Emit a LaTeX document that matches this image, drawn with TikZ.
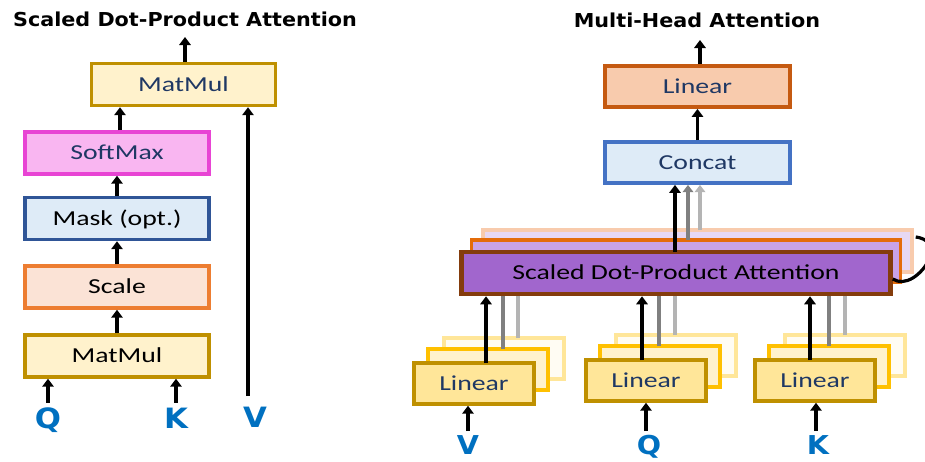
\documentclass[tikz,border=0pt]{standalone}
\usepackage{fontspec}
\usetikzlibrary{arrows.meta,calc}
\newfontfamily\labfont[FakeStretch=1.3]{Carlito}
\newfontfamily\headfont[FakeStretch=1.08]{DejaVu Sans}
\newfontfamily\qkvfont[FakeStretch=1.1]{DejaVu Sans}

\definecolor{navy}{HTML}{1F3864}
\definecolor{qkvblue}{HTML}{0070C0}
\definecolor{mmfill}{HTML}{FFF2CC}
\definecolor{mmdraw}{HTML}{BF9000}
\definecolor{softfill}{HTML}{F9B6F1}
\definecolor{softdraw}{HTML}{E844D4}
\definecolor{maskfill}{HTML}{DEEBF7}
\definecolor{maskdraw}{HTML}{2F5597}
\definecolor{scalefill}{HTML}{FBE3D6}
\definecolor{scaledraw}{HTML}{ED7D31}
\definecolor{outfill}{HTML}{F8CBAD}
\definecolor{outdraw}{HTML}{C55A11}
\definecolor{catfill}{HTML}{DEEBF7}
\definecolor{catdraw}{HTML}{4472C4}
\definecolor{sAfill}{HTML}{A166CD}
\definecolor{sAdraw}{HTML}{843C0C}
\definecolor{sBfill}{HTML}{C9A3E6}
\definecolor{sBdraw}{HTML}{E46C0A}
\definecolor{sCfill}{HTML}{E7D8F3}
\definecolor{sCdraw}{HTML}{F8CBAD}
\definecolor{linAfill}{HTML}{FFE699}
\definecolor{linAdraw}{HTML}{BF9000}
\definecolor{linBfill}{HTML}{FFF2CC}
\definecolor{linBdraw}{HTML}{FFC000}
\definecolor{linCfill}{HTML}{FFFCF3}
\definecolor{linCdraw}{HTML}{FFE699}
\definecolor{dgray}{HTML}{808080}
\definecolor{lgray}{HTML}{B4B4B4}

\begin{document}
\begin{tikzpicture}[x=0.75pt,y=-0.75pt,
  box/.style={draw, line width=2.6pt, inner sep=0pt,
    font=\labfont\fontsize{16}{18}\selectfont, text height=10pt, text depth=0pt},
  lbox/.style={box, minimum width=138pt, minimum height=31.5pt},
  rbox/.style={box, minimum width=138.75pt, minimum height=31pt},
  headbox/.style={box, minimum width=321.75pt, minimum height=31.5pt},
  linbox/.style={box, minimum width=90pt, minimum height=30.75pt},
  heading/.style={inner sep=0pt, font=\headfont\bfseries\fontsize{14.4}{16}\selectfont,
    text height=10.5pt, text depth=0pt},
  qkv/.style={inner sep=0pt, text=qkvblue, font=\qkvfont\bfseries\fontsize{21}{24}\selectfont,
    text height=15.3pt, text depth=0pt},
  qkvr/.style={qkv, font=\qkvfont\bfseries\fontsize{19.5}{22}\selectfont, text height=14.2pt},
  arr/.style={line width=2.6pt, -{Triangle[width=8.5pt,length=6pt]}},
  garr/.style={line width=2.4pt, -{Triangle[width=8pt,length=5.5pt]}},
  gline/.style={line width=2.4pt},
]
\useasboundingbox (0,0) rectangle (925,461);
\clip (0,0) rectangle (925,461);

% ---------------- scaled dot-product attention ----------------
\node[heading] (t1) at (185,19) {Scaled Dot-Product Attention};

\node[lbox, fill=mmfill, draw=mmdraw, text=navy] (mm2) at (183.5,84.5) {MatMul};
\node[lbox, fill=softfill, draw=softdraw, text=navy] (soft) at (117,153) {SoftMax};
\node[lbox, fill=maskfill, draw=maskdraw, text=black] (mask) at (117,218.5) {Mask (opt.)};
\node[lbox, fill=scalefill, draw=scaledraw, text=black] (scale) at (117,287) {Scale};
\node[lbox, fill=mmfill, draw=mmdraw, text=black] (mm1) at (117,356) {MatMul};

\node[qkv] (qL) at (48,418) {Q};
\node[qkv] (kL) at (176,418) {K};
\node[qkv] (vL) at (255,417) {V};

\coordinate (o1) at (185,37);
\coordinate (vin) at (248,396);

\draw[arr] (mm1.north) -- (scale.south);
\draw[arr] (scale.north) -- (mask.south);
\draw[arr] (mask.north) -- (soft.south);
\draw[arr] ([xshift=2.25pt]soft.north) -- ([xshift=2.25pt]soft.north |- mm2.south);
\draw[arr] (mm2.north -| o1) -- (o1);
\draw[arr] ($(qL.north)+(0,-5)$) -- (qL.north |- mm1.south);
\draw[arr] ($(kL.north)+(0,-5)$) -- (kL.north |- mm1.south);
\draw[arr] (vin) -- (vin |- mm2.south);

% ---------------- multi-head attention ----------------
\node[heading] (t2) at (697,20) {Multi-Head Attention};

\node[rbox, fill=outfill, draw=outdraw, text=navy] (lin) at (697.5,86.5) {Linear};
\node[rbox, fill=catfill, draw=catdraw, text=navy] (concat) at (697.5,162.5) {Concat};

\node[headbox, fill=sCfill, draw=sCdraw] (sdpa3) at (697.5,251) {};
\node[headbox, fill=sBfill, draw=sBdraw] (sdpa2) at (686,261) {};
\node[headbox, fill=sAfill, draw=sAdraw, line width=3.4pt, text=black] (sdpa1) at (676,273)
  {Scaled Dot-Product Attention};

\coordinate (o2) at (700,40);
\draw[arr] (concat.north) -- (concat.north |- lin.south);
\draw[arr] (lin.north -| o2) -- (o2);

% head outputs into the concatenation
\coordinate (h3) at (700,230);
\coordinate (h2) at (688,240);
\coordinate (h1) at (675,252);
\draw[garr, lgray] (h3) -- (h3 |- concat.south);
\draw[garr, dgray] (h2) -- (h2 |- concat.south);
\draw[arr] (h1) -- (h1 |- concat.south);

% bracket spanning the stacked heads
\draw[line width=2.4pt] ($(sdpa1.east)+(0,6)$) .. controls (905,287) and (922,275) .. (930,258)
  .. controls (936,246) and (926,238) .. ($(sdpa3.east)+(2,-14)$);

% linear projections for V, Q and K
\foreach \n/\x/\y/\a/\b/\c/\i/\ix/\lab in {
    v/413/362/486/503/518/468/468/V,
    q/585/359/642/659/675/646/649/Q,
    k/754/359/810/829/845/816/818/K} {
  \node[linbox, fill=linCfill, draw=linCdraw] (\n3) at (\x+91,\y-3.5) {};
  \node[linbox, fill=linBfill, draw=linBdraw] (\n2) at (\x+75,\y+7.5) {};
  \node[linbox, fill=linAfill, draw=linAdraw, text=navy] (\n1) at (\x+61,\y+21.5) {Linear};
  \coordinate (\n c) at (\c,\y-24);
  \coordinate (\n b) at (\b,\y-13);
  \coordinate (\n a) at (\a,\y+1);
  \draw[gline, lgray] (\n c) -- (\n c |- sdpa1.south);
  \draw[gline, dgray] (\n b) -- (\n b |- sdpa1.south);
  \draw[arr] (\n a) -- (\n a |- sdpa1.south);
  \node[qkvr] (\n in) at (\ix,445) {\lab};
  \coordinate (\n s) at (\i,431);
  \draw[arr] (\n s) -- (\n s |- \n1.south);
}
\end{tikzpicture}
\end{document}
